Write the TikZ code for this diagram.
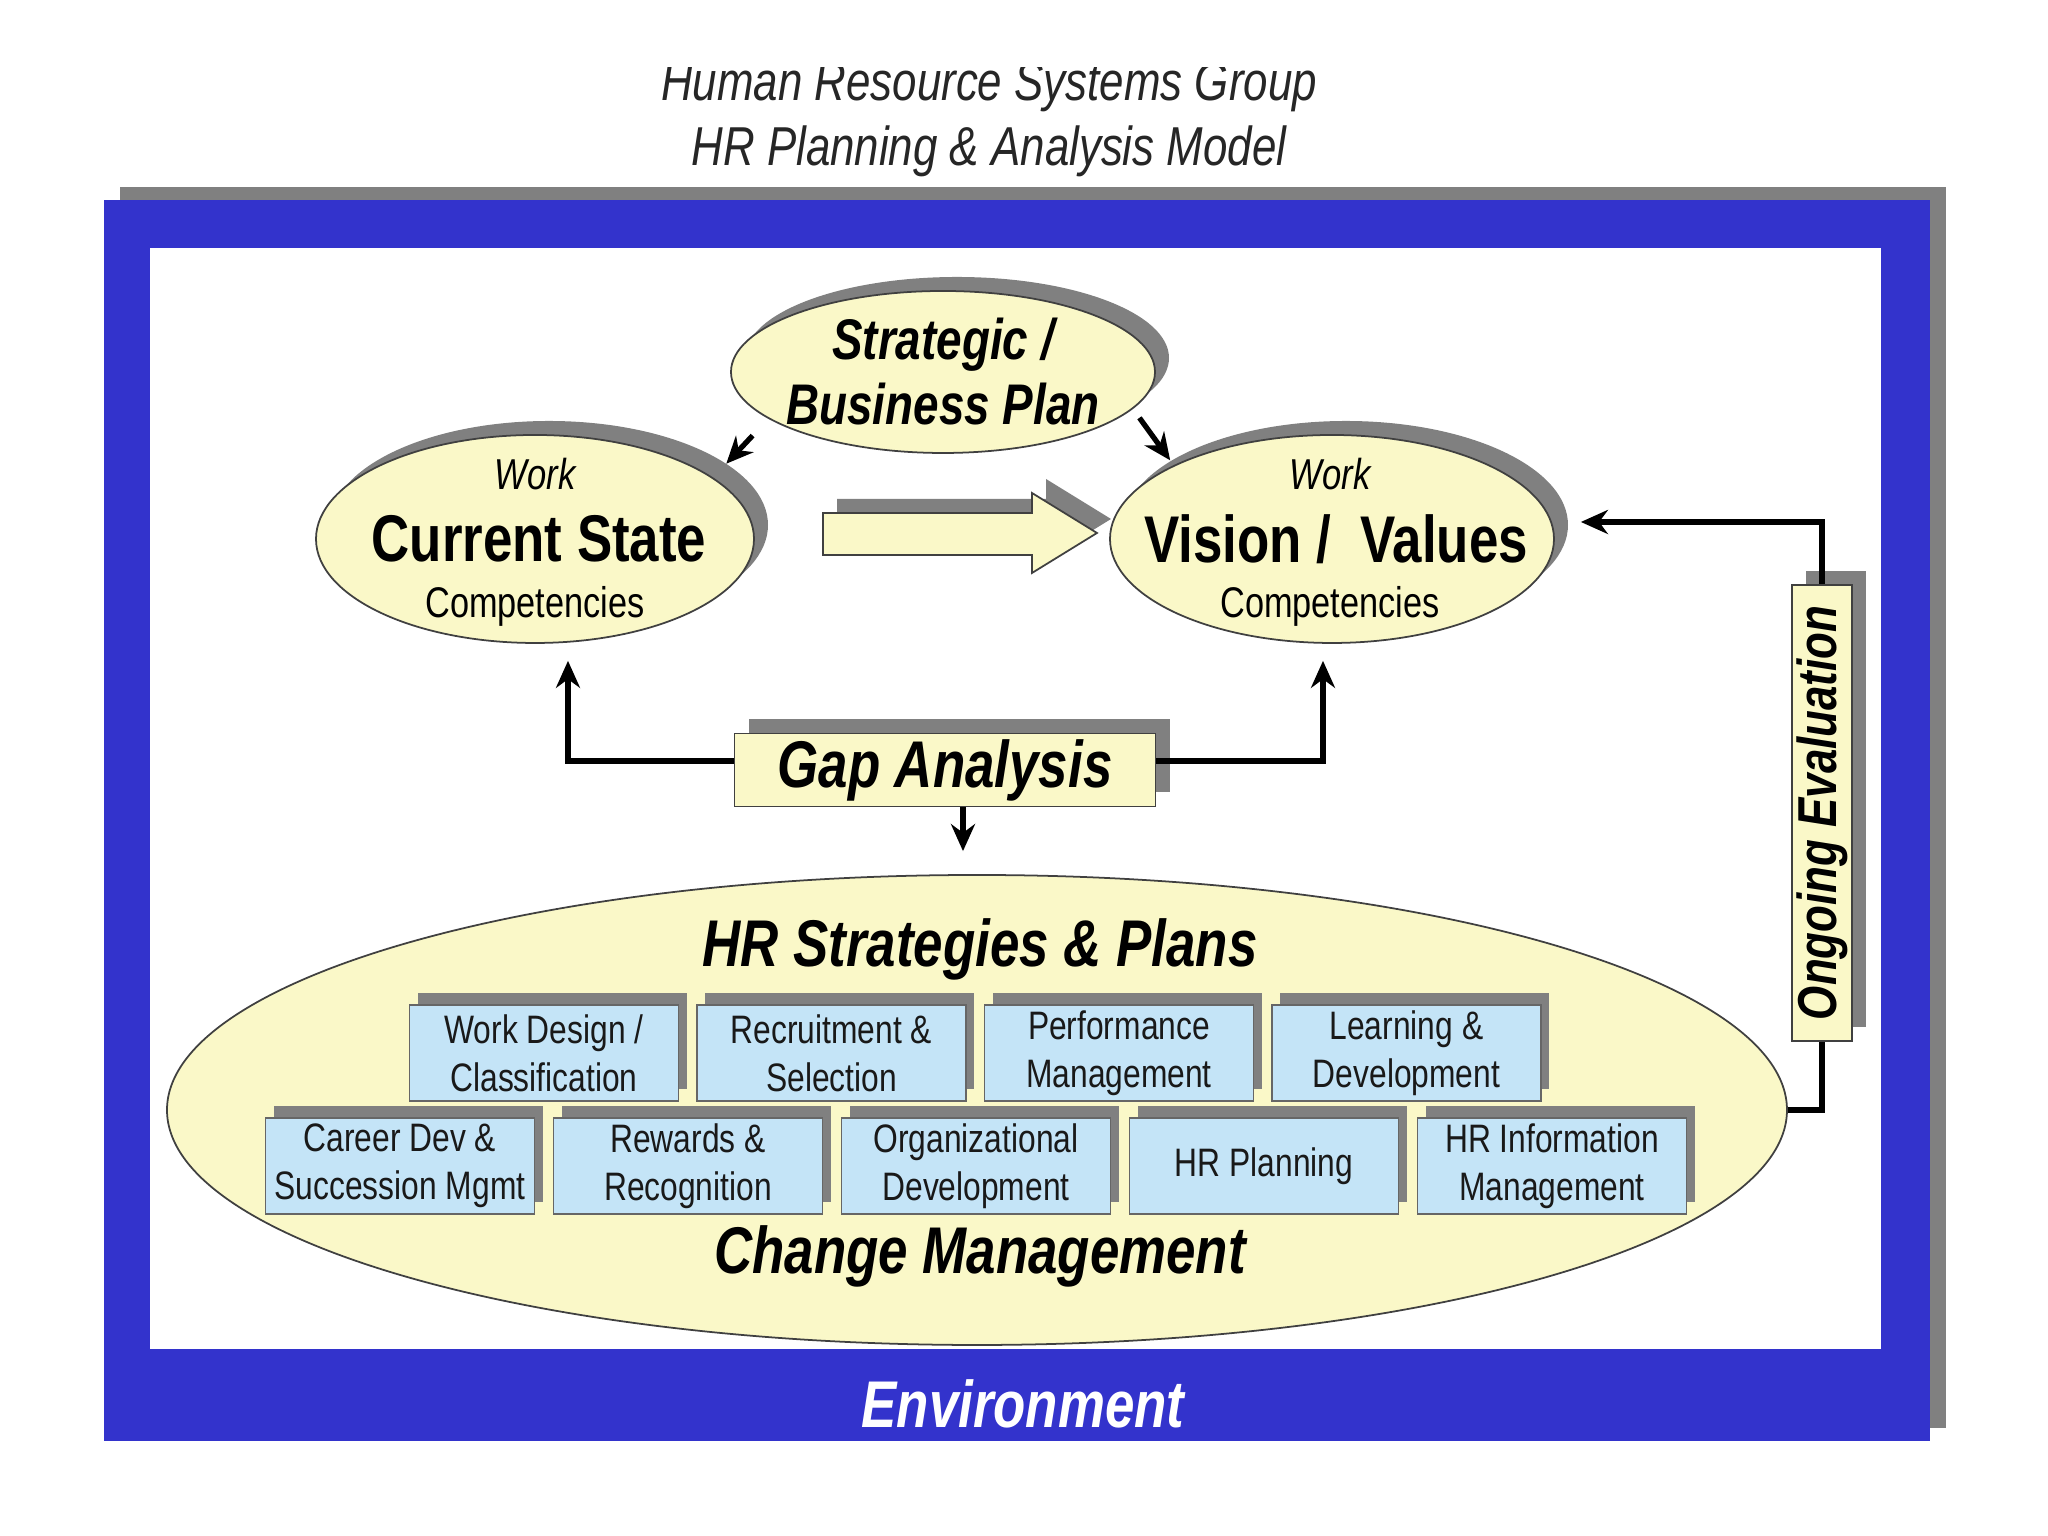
\documentclass[tikz,border=0pt]{standalone}
\usepackage{fontspec}
\setmainfont{Liberation Sans}[FakeStretch=0.8]
\usetikzlibrary{arrows.meta, shadows, shapes.geometric}

\definecolor{frameblue}{HTML}{3333CC}
\definecolor{paleyellow}{HTML}{FAF8C8}
\definecolor{skyfill}{HTML}{C4E4F7}
\definecolor{shadowgray}{HTML}{808080}

\begin{document}
\begin{tikzpicture}[
  shadowed/.style={drop shadow={shadow xshift=0.14cm, shadow yshift=0.14cm, fill=shadowgray, opacity=1}},
  boxshadow/.style={drop shadow={shadow xshift=0.08cm, shadow yshift=0.12cm, fill=shadowgray, opacity=1}},
  oval/.style={ellipse, draw=black!75, line width=0.5pt, fill=paleyellow, inner sep=0pt},
  panel/.style={draw=black!75, line width=0.5pt, fill=paleyellow, inner sep=0pt},
  hrbox/.style={draw=black!60, line width=0.5pt, fill=skyfill, boxshadow, align=center,
                minimum width=2.69cm, minimum height=0.96cm, inner sep=0pt,
                font=\fontsize{11.3}{13.7}\selectfont, text=black!90},
  titlefont/.style={font=\fontsize{15.6}{18.4}\selectfont\itshape, text=black!85},
  bigfont/.style={font=\fontsize{18.8}{22}\selectfont\bfseries\itshape},
  headfont/.style={font=\fontsize{16.3}{18.5}\selectfont\bfseries\itshape, align=center},
  statefont/.style={font=\fontsize{18.8}{22}\selectfont\bfseries},
  workfont/.style={font=\fontsize{12.3}{14}\selectfont\itshape},
  compfont/.style={font=\fontsize{12.2}{14}\selectfont},
  arrow/.style={->, >={Stealth[length=2.7mm, width=2.4mm]}, line width=1.5pt},
  link/.style={line width=1.5pt},
]

% Page
\useasboundingbox (0,0) rectangle (20.48,15.36);
\fill[white] (0,0) rectangle (20.48,15.36);

% Title (top edge cut as in the original)
\begin{scope}
  \clip (0,0) rectangle (20.48,14.68);
  \node[titlefont, anchor=base] (title1) at (9.89,14.35) {Human Resource Systems Group};
  \node[titlefont, anchor=base] (title2) at (9.89,13.70) {HR Planning \& Analysis Model};
\end{scope}

% Environment frame
\fill[frameblue, drop shadow={shadow xshift=0.16cm, shadow yshift=0.13cm, fill=shadowgray, opacity=1}]
  (1.04,0.95) rectangle (19.30,13.36);
\fill[white] (1.50,1.87) rectangle (18.81,12.88);
\node[bigfont, text=white] (env) at (10.23,1.32) {Environment};

% === Upper part ===
\node[oval, shadowed, minimum width=4.24cm, minimum height=1.62cm] (strat) at (9.43,11.64) {};
\node[headfont] (strat text) at (strat) {Strategic /\\Business Plan};

\node[oval, shadowed, minimum width=4.38cm, minimum height=2.08cm] (cur) at (5.35,9.97) {};
\node[workfont] (cur work) at ([yshift=0.65cm]cur.center) {Work};
\node[statefont] (cur text) at ([xshift=0.04cm]cur.center) {Current State};
\node[compfont] (cur comp) at ([yshift=-0.67cm]cur.center) {Competencies};

\node[oval, shadowed, minimum width=4.44cm, minimum height=2.08cm] (vis) at (13.32,9.97) {};
\node[workfont] (vis work) at ([yshift=0.65cm, xshift=-0.02cm]vis.center) {Work};
\node[statefont] (vis text) at ([xshift=0.04cm]vis.center) {Vision /\ \ Values};
\node[compfont] (vis comp) at ([yshift=-0.67cm, xshift=-0.02cm]vis.center) {Competencies};

% Block arrow from current state to vision
\draw[draw=black!75, line width=0.5pt, fill=paleyellow, shadowed]
  (8.23,10.23) -- (10.32,10.23) -- (10.32,10.43) -- (10.97,10.03)
  -- (10.32,9.63) -- (10.32,9.81) -- (8.23,9.81) -- cycle;

\draw[arrow, shorten <=0.23cm, shorten >=0.19cm] (strat.195) -- (cur.19);
\draw[arrow, shorten <=0.11cm, shorten >=0.06cm] (strat.-11) -- (vis.155);

% Gap analysis
\node[panel, shadowed, bigfont, minimum width=4.21cm, minimum height=0.73cm] (gap) at (9.45,7.66) {Gap Analysis};
\draw[arrow] ([yshift=0.09cm]gap.west) -| ([xshift=0.33cm, yshift=-0.17cm]cur.south);
\draw[arrow] ([yshift=0.09cm]gap.east) -| ([xshift=-0.09cm, yshift=-0.17cm]vis.south);

% === HR strategies ===
\node[oval, minimum width=16.2cm, minimum height=4.7cm] (hr) at (9.77,4.26) {};
\node[bigfont] (hr title) at (9.80,5.87) {HR Strategies \& Plans};
\node[bigfont] (hr change) at (9.80,2.80) {Change Management};

\coordinate (gap drop) at ([xshift=0.18cm]gap.south);
\draw[arrow, shorten >=0.23cm] (gap drop) -- (gap drop |- hr.north);

\foreach \lbl [count=\i from 0] in {{Work Design /\\Classification}, {Recruitment \&\\Selection},
    {Performance\\Management}, {Learning \&\\Development}}
  \node[hrbox] (top\i) at (5.44+2.875*\i, 4.83) {\lbl};

\foreach \lbl [count=\i from 0] in {{Career Dev \&\\Succession Mgmt}, {Rewards \&\\Recognition},
    {Organizational\\Development}, {HR Planning}, {HR Information\\Management}}
  \node[hrbox] (low\i) at (4.00+2.88*\i, 3.70) {\lbl};

% Ongoing evaluation loop
\node[panel, shadowed, minimum width=0.60cm, minimum height=4.56cm] (eval) at (18.22,7.23) {};
\node[font=\fontsize{15.6}{18}\selectfont\bfseries\itshape, rotate=90] (eval text) at (eval) {Ongoing Evaluation};
\draw[link] (hr.east) -| (eval.south);
\draw[arrow] (eval.north) |- ([xshift=0.26cm, yshift=0.17cm]vis.east);

\end{tikzpicture}
\end{document}
